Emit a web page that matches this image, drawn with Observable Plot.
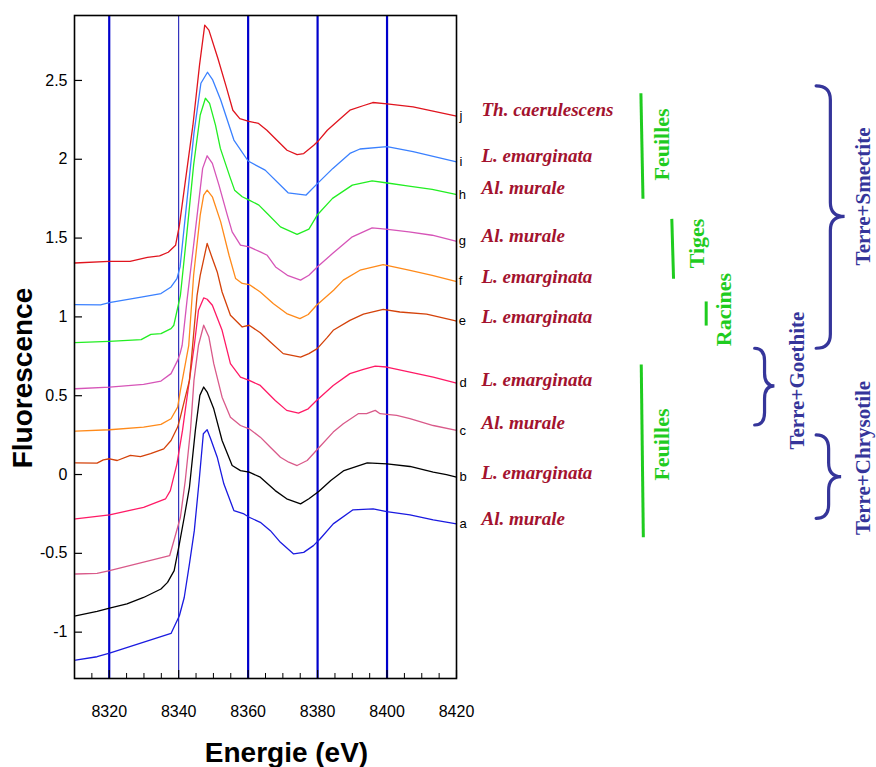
<!DOCTYPE html>
<html>
<head>
<meta charset="utf-8">
<script src="https://cdn.jsdelivr.net/npm/d3@7"></script>
<script src="https://cdn.jsdelivr.net/npm/@observablehq/plot@0.6"></script>
<style>
  html, body { margin: 0; padding: 0; background: #ffffff; }
  #chart svg { display: block; }
</style>
</head>
<body>
<div id="chart"></div>
<script>
// ---------- axes ----------
const xTicks = [8320, 8340, 8360, 8380, 8400, 8420];
const xMinorTicks = [8315, 8325, 8330, 8335, 8345, 8350, 8355, 8365, 8370, 8375, 8385, 8390, 8395, 8405, 8410, 8415];
const yTicks = [-1, -0.5, 0, 0.5, 1, 1.5, 2, 2.5];
const gridStrong = [8320, 8360, 8380, 8400];
const gridThin = [8340];

// ---------- spectra (Energie eV, Fluorescence) ----------
const spectrumA = [[8310.3,-1.177],[8316.5,-1.156],[8320.1,-1.133],[8337.8,-1.008],[8340.2,-0.896],[8341.6,-0.780],[8343.1,-0.567],[8344.5,-0.356],[8345.9,-0.038],[8347.1,0.259],[8348.2,0.284],[8349.2,0.227],[8351.1,0.110],[8353.0,-0.059],[8355.9,-0.229],[8358.8,-0.250],[8360.3,-0.271],[8363.5,-0.303],[8366.4,-0.356],[8369.3,-0.430],[8373.1,-0.504],[8376.0,-0.494],[8378.8,-0.451],[8380.7,-0.409],[8384.5,-0.313],[8390.2,-0.224],[8396.0,-0.218],[8399.9,-0.235],[8406.6,-0.256],[8413.3,-0.288],[8420.0,-0.313]];
const spectrumB = [[8310.3,-0.896],[8316.5,-0.868],[8320.1,-0.847],[8325.1,-0.821],[8329.9,-0.780],[8334.9,-0.726],[8336.8,-0.684],[8338.7,-0.610],[8340.2,-0.440],[8341.6,-0.271],[8343.1,-0.081],[8344.8,0.280],[8346.1,0.502],[8347.2,0.555],[8348.2,0.523],[8350.1,0.417],[8352.5,0.216],[8355.4,0.057],[8357.8,0.025],[8360.3,0.015],[8363.5,-0.017],[8367.8,-0.102],[8371.1,-0.154],[8375.1,-0.186],[8377.5,-0.154],[8380.4,-0.106],[8383.8,-0.038],[8387.6,0.025],[8394.3,0.074],[8400.0,0.068],[8406.6,0.051],[8413.3,0.015],[8417.1,0.000],[8420.0,-0.017]];
const spectrumC = [[8310.3,-0.631],[8316.5,-0.627],[8320.1,-0.610],[8337.4,-0.515],[8338.9,-0.398],[8340.5,-0.271],[8341.9,-0.038],[8343.4,0.280],[8344.4,0.597],[8345.7,0.820],[8347.2,0.947],[8348.7,0.872],[8350.1,0.703],[8352.5,0.491],[8354.9,0.364],[8357.8,0.311],[8360.3,0.290],[8363.5,0.237],[8366.4,0.173],[8369.3,0.110],[8371.7,0.078],[8374.1,0.057],[8377.0,0.089],[8380.3,0.168],[8384.5,0.269],[8387.4,0.322],[8391.7,0.386],[8394.1,0.386],[8396.6,0.407],[8398.0,0.386],[8400.0,0.381],[8402.8,0.375],[8406.6,0.354],[8413.3,0.311],[8420.0,0.280]];
const spectrumD = [[8310.3,-0.281],[8320.1,-0.256],[8329.9,-0.208],[8336.2,-0.155],[8337.6,-0.102],[8339.5,0.068],[8341.1,0.280],[8342.4,0.489],[8344.5,0.820],[8345.7,1.042],[8347.2,1.120],[8348.2,1.112],[8349.7,1.074],[8352.5,0.915],[8354.9,0.703],[8357.8,0.618],[8360.3,0.597],[8363.5,0.565],[8367.8,0.470],[8371.1,0.407],[8374.5,0.389],[8377.3,0.417],[8379.7,0.470],[8384.5,0.565],[8389.3,0.640],[8393.2,0.667],[8396.6,0.688],[8399.9,0.682],[8406.6,0.650],[8413.3,0.618],[8420.0,0.580]];
const spectrumE = [[8310.3,0.074],[8316.5,0.072],[8318.3,0.093],[8320.1,0.100],[8322.3,0.089],[8326.1,0.121],[8329.0,0.114],[8331.9,0.132],[8335.7,0.163],[8337.8,0.216],[8339.7,0.301],[8340.5,0.366],[8341.9,0.491],[8343.1,0.597],[8343.7,0.740],[8345.3,1.137],[8346.2,1.264],[8348.2,1.466],[8349.7,1.370],[8351.1,1.285],[8352.5,1.158],[8354.9,1.010],[8358.3,0.936],[8360.3,0.947],[8363.5,0.899],[8366.4,0.841],[8370.1,0.767],[8375.1,0.745],[8377.5,0.767],[8379.9,0.799],[8382.8,0.870],[8384.5,0.915],[8389.3,0.978],[8393.2,1.017],[8398.9,1.048],[8403.7,1.031],[8411.4,1.017],[8419.8,0.974]];
const spectrumF = [[8310.3,0.275],[8320.1,0.284],[8329.9,0.301],[8334.9,0.318],[8337.8,0.354],[8339.7,0.428],[8340.5,0.534],[8342.9,0.820],[8344.3,1.264],[8346.2,1.646],[8347.2,1.772],[8348.2,1.804],[8349.7,1.762],[8352.1,1.603],[8354.5,1.391],[8356.4,1.243],[8358.3,1.212],[8360.3,1.205],[8363.5,1.158],[8367.3,1.084],[8371.1,1.021],[8374.9,0.989],[8377.3,1.015],[8379.7,1.074],[8384.6,1.169],[8387.4,1.233],[8392.2,1.296],[8398.9,1.332],[8406.3,1.296],[8413.0,1.264],[8419.8,1.226]];
const spectrumG = [[8310.3,0.544],[8320.1,0.555],[8329.9,0.572],[8334.9,0.593],[8337.8,0.640],[8339.7,0.724],[8340.4,0.767],[8341.0,0.820],[8342.4,1.105],[8344.3,1.455],[8346.9,1.942],[8348.2,2.022],[8349.7,1.974],[8351.6,1.836],[8354.0,1.646],[8355.4,1.539],[8357.8,1.455],[8360.3,1.444],[8363.5,1.412],[8365.5,1.391],[8367.9,1.317],[8371.3,1.264],[8375.1,1.233],[8377.5,1.264],[8379.9,1.317],[8384.3,1.402],[8390.0,1.508],[8395.7,1.565],[8399.6,1.557],[8406.3,1.539],[8413.0,1.518],[8419.8,1.480]];
const spectrumH = [[8310.0,0.837],[8320.0,0.845],[8329.2,0.856],[8332.0,0.889],[8334.9,0.894],[8337.8,0.926],[8338.6,0.947],[8340.5,1.137],[8342.4,1.539],[8344.3,1.963],[8346.2,2.281],[8347.7,2.387],[8348.9,2.355],[8350.6,2.217],[8352.0,2.069],[8354.9,1.879],[8356.1,1.804],[8358.3,1.762],[8360.3,1.741],[8363.1,1.709],[8365.5,1.656],[8369.3,1.571],[8374.1,1.523],[8377.5,1.557],[8379.9,1.646],[8384.3,1.752],[8390.0,1.836],[8395.7,1.863],[8399.6,1.851],[8406.3,1.830],[8413.0,1.809],[8419.8,1.777]];
const spectrumI = [[8310.0,1.078],[8317.5,1.076],[8320.0,1.091],[8329.2,1.126],[8334.9,1.148],[8337.8,1.190],[8339.5,1.243],[8340.4,1.317],[8342.4,1.741],[8344.4,2.166],[8346.4,2.482],[8348.3,2.552],[8349.8,2.503],[8352.1,2.376],[8355.9,2.122],[8360.0,1.989],[8364.9,1.931],[8371.5,1.787],[8376.7,1.773],[8380.0,1.847],[8384.4,1.942],[8389.3,2.037],[8392.2,2.065],[8400.0,2.080],[8407.5,2.048],[8420.0,1.984]];
const spectrumJ = [[8310.0,1.342],[8320.0,1.352],[8326.0,1.352],[8331.0,1.378],[8334.5,1.387],[8337.0,1.410],[8339.1,1.454],[8340.2,1.581],[8344.1,2.216],[8346.0,2.597],[8347.5,2.851],[8348.7,2.819],[8351.3,2.639],[8353.7,2.459],[8355.6,2.311],[8357.6,2.258],[8360.2,2.241],[8363.0,2.227],[8365.4,2.184],[8368.8,2.110],[8371.2,2.057],[8374.1,2.030],[8376.0,2.036],[8378.9,2.089],[8380.4,2.121],[8382.8,2.184],[8386.6,2.258],[8389.3,2.311],[8393.3,2.341],[8395.9,2.360],[8400.0,2.351],[8407.5,2.332],[8420.0,2.273]];

const seriesKeys   = ["a", "b", "c", "d", "e", "f", "g", "h", "i", "j"];
const seriesColors = ["#1a1ae0", "#000000", "#d95a8a", "#ff1a66", "#d4420a", "#ff8a1a", "#d655b8", "#22ee22", "#3a80ff", "#e0141e"];
const seriesData   = [spectrumA, spectrumB, spectrumC, spectrumD, spectrumE, spectrumF, spectrumG, spectrumH, spectrumI, spectrumJ];

// species names per spectrum (a..j) and their label heights
const speciesNames = ["Al. murale", "L. emarginata", "Al. murale", "L. emarginata", "L. emarginata", "L. emarginata", "Al. murale", "Al. murale", "L. emarginata", "Th. caerulescens"];
const speciesY     = [-0.279, 0.011, 0.328, 0.603, 0.999, 1.253, 1.513, 1.820, 2.021, 2.311];

// plant organ groups (green)
const organNames = ["Feuilles", "Tiges", "Racines", "Feuilles"];
const organTextX = [8479.2, 8489.3, 8497.1, 8479.2];
const organTextY = [2.094, 1.466, 1.047, 0.190];
const organBarX1 = [8473.1, 8482.0, 8491.9, 8473.2];
const organBarX2 = [8473.7, 8482.5, 8491.9, 8473.8];
const organBarTop = [2.419, 1.622, 1.098, 0.698];
const organBarBottom = [1.749, 1.242, 0.945, -0.398];

// soil groups (braces)
const soilNames   = ["Terre+Smectite", "Terre+Goethite", "Terre+Chrysotile"];
const soilTextX   = [8537.0, 8518.1, 8537.0];
const soilTextY   = [1.764, 0.596, 0.105];
const braceX0     = [8523.7, 8506.0, 8523.7];
const braceX1     = [8531.9, 8511.7, 8530.9];
const braceTop    = [2.463, 0.798, 0.248];
const braceMid    = [1.634, 0.559, -0.017];
const braceBottom = [0.798, 0.311, -0.281];

// ---------- derived tables ----------
const lineRows = seriesData.flatMap((pts, i) => pts.map(([E, v]) => ({key: seriesKeys[i], E, v})));
const endRows = seriesData.map((pts, i) => ({key: seriesKeys[i], E: pts[pts.length - 1][0], v: pts[pts.length - 1][1]}));
const speciesRows = speciesNames.map((name, i) => ({name, y: speciesY[i]}));
const organRows = organNames.map((name, i) => ({name, x: organTextX[i], y: organTextY[i], x1: organBarX1[i], x2: organBarX2[i], y1: organBarTop[i], y2: organBarBottom[i]}));
const soilRows = soilNames.map((name, i) => ({name, x: soilTextX[i], y: soilTextY[i]}));

const xDomain = [8310, 8420];
const yDomain = [-1.294, 2.912];

const braceRender = (index, scales) => {
  const x = scales.x, y = scales.y;
  const g = d3.create("svg:g")
    .attr("fill", "none")
    .attr("stroke", "#35359a")
    .attr("stroke-width", 3.2)
    .attr("stroke-linecap", "round");
  braceTop.forEach((t, i) => {
    const X0 = x(braceX0[i]), X1 = x(braceX1[i]);
    const Yt = y(t), Ym = y(braceMid[i]), Yb = y(braceBottom[i]);
    const Xm = (X0 + X1) / 2;
    const r = Math.min(14, (Ym - Yt) / 3);
    g.append("path").attr("d",
      `M${X0},${Yt}Q${Xm},${Yt} ${Xm},${Yt + r}L${Xm},${Ym - r}Q${Xm},${Ym} ${X1},${Ym}` +
      `Q${Xm},${Ym} ${Xm},${Ym + r}L${Xm},${Yb - r}Q${Xm},${Yb} ${X0},${Yb}`);
  });
  return g.node();
};

const serif = "'Liberation Serif', 'Times New Roman', serif";

const chart = Plot.plot({
  width: 876,
  height: 767,
  marginLeft: 74,
  marginRight: 420,
  marginTop: 15,
  marginBottom: 89,
  style: {fontFamily: "'Liberation Sans', Arial, Helvetica, sans-serif", fontSize: "16px", background: "#ffffff", overflow: "visible"},
  x: {domain: xDomain},
  y: {domain: yDomain},
  color: {domain: seriesKeys, range: seriesColors},
  marks: [
    Plot.ruleX(gridStrong, {stroke: "#0000cc", strokeWidth: 2.2}),
    Plot.ruleX(gridThin, {stroke: "#0a0ab0", strokeWidth: 1}),
    Plot.line(lineRows, {x: "E", y: "v", z: "key", stroke: "key", strokeWidth: 1.3}),
    Plot.frame({stroke: "#000000", strokeWidth: 1.6}),
    // inward ticks
    Plot.ruleX(xTicks, {y1: yDomain[0], y2: yDomain[0] + 8 / 157.6, stroke: "#000", strokeWidth: 1.2}),
    Plot.ruleX(xMinorTicks, {y1: yDomain[0], y2: yDomain[0] + 5 / 157.6, stroke: "#000", strokeWidth: 1}),
    Plot.ruleY(yTicks, {x1: xDomain[0], x2: xDomain[0] + 8 / 3.475, stroke: "#000", strokeWidth: 1.2}),
    Plot.axisX(xTicks, {tickSize: 0, tickPadding: 27, label: null, fontSize: 16, tickFormat: d => String(d)}),
    Plot.axisY(yTicks, {tickSize: 0, tickPadding: 7, label: null, fontSize: 16, tickFormat: d => String(d)}),
    Plot.text(["Energie (eV)"], {frameAnchor: "bottom", textAnchor: "middle", lineAnchor: "middle", dx: 21, dy: 75, fontSize: 28, fontWeight: "bold", fill: "#000"}),
    Plot.text(["Fluorescence"], {frameAnchor: "left", textAnchor: "middle", lineAnchor: "middle", rotate: -90, dx: -51, dy: 31, fontSize: 28, fontWeight: "bold", fill: "#000"}),
    // letters a..j at curve ends
    Plot.text(endRows, {x: "E", y: "v", text: "key", dx: 3, textAnchor: "start", fontSize: 13, fill: "#000"}),
    // species names
    Plot.text(speciesRows, {x: () => xDomain[1], y: "y", text: "name", dx: 25, textAnchor: "start", fontSize: 19, fontWeight: "bold", fontStyle: "italic", fontFamily: serif, fill: "#a3122e"}),
    // organ bars & labels
    Plot.link(organRows, {x1: "x1", y1: "y1", x2: "x2", y2: "y2", stroke: "#1fcc1f", strokeWidth: 3}),
    Plot.text(organRows, {x: "x", y: "y", text: "name", rotate: -90, fontSize: 22, fontWeight: "bold", fontFamily: serif, fill: "#1fcc1f"}),
    // soil braces & labels
    braceRender,
    Plot.text(soilRows, {x: "x", y: "y", text: "name", rotate: -90, fontSize: 21, fontWeight: "bold", fontFamily: serif, fill: "#35359a"})
  ]
});

document.getElementById("chart").appendChild(chart);
</script>
</body>
</html>
